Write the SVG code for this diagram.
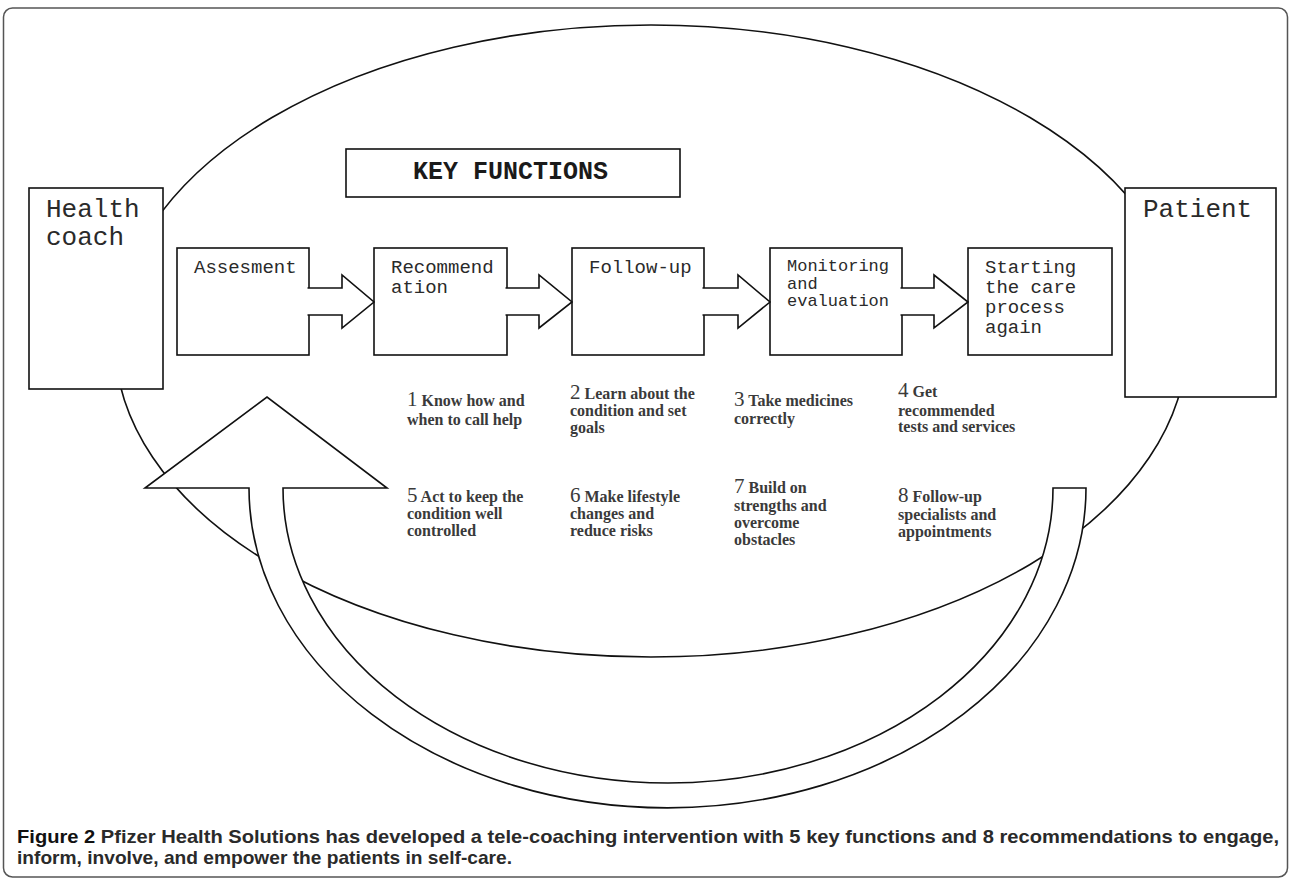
<svg xmlns="http://www.w3.org/2000/svg" width="1290" height="880" viewBox="0 0 1290 880">
<style>
.frame{fill:#fff;stroke:#555;stroke-width:1.5}
.line{fill:none;stroke:#111;stroke-width:1.6}
.box{fill:#fff;stroke:#111;stroke-width:1.6}
.mono{font-family:"Liberation Mono","Courier New",monospace;fill:#2a2a2a}
.big{font-size:26px}
.med{font-size:19px}
.sm{font-size:17px}
.kf{font-size:25px;font-weight:bold;fill:#1a1a1a}
.ser{font-family:"Liberation Serif","Times New Roman",serif;font-size:16px;font-weight:bold;fill:#3a3a3a}
.num{font-size:21px;font-weight:normal}
.cap{font-family:"Liberation Sans",Arial,sans-serif;font-size:19px;font-weight:bold;fill:#2a2a2a}
</style>
<rect class="frame" x="3.5" y="8" width="1284" height="869" rx="9"/>
<ellipse id="cycle" class="line" cx="651" cy="341" rx="536" ry="316"/>

<g id="health-coach">
<rect class="box" x="29" y="188" width="134" height="201"/>
<text class="mono big" x="46" y="217">Health</text>
<text class="mono big" x="46" y="245">coach</text>
</g>
<g id="patient">
<rect class="box" x="1125" y="188" width="151" height="209"/>
<text class="mono big" x="1143" y="217">Patient</text>
</g>
<g id="key-functions">
<rect class="box" x="346" y="149" width="334" height="48"/>
<text class="mono kf" x="413" y="179">KEY FUNCTIONS</text>
</g>
<g id="assesment">
<rect class="box" x="177" y="248" width="132" height="107"/>
<text class="mono med" x="194" y="273">Assesment</text>
</g>
<g id="recommendation">
<rect class="box" x="374" y="248" width="133" height="107"/>
<text class="mono med" x="391" y="273">Recommend</text>
<text class="mono med" x="391" y="293">ation</text>
</g>
<g id="follow-up">
<rect class="box" x="572" y="248" width="132" height="107"/>
<text class="mono med" x="589" y="273">Follow-up</text>
</g>
<g id="monitoring">
<rect class="box" x="770" y="248" width="132" height="107"/>
<text class="mono sm" x="787" y="271">Monitoring</text>
<text class="mono sm" x="787" y="289">and</text>
<text class="mono sm" x="787" y="306">evaluation</text>
</g>
<g id="starting">
<rect class="box" x="968" y="248" width="144" height="107"/>
<text class="mono med" x="985" y="273">Starting</text>
<text class="mono med" x="985" y="293">the care</text>
<text class="mono med" x="985" y="313">process</text>
<text class="mono med" x="985" y="333">again</text>
</g>

<g id="connectors">
<path class="box" d="M307.5,288 H342 V275 L374,302 L342,328 V315 H307.5"/>
<path class="box" d="M505.5,288 H539 V275 L572,302 L539,328 V315 H505.5"/>
<path class="box" d="M702.5,288 H738 V275 L770,302 L738,328 V315 H702.5"/>
<path class="box" d="M900.5,288 H934 V275 L968,302 L934,328 V315 H900.5"/>
<path class="box" d="M249,488 A418.5,320 0 0 0 1086,488 L1053,488 A385,295 0 0 1 283,488 L387,488 L267,397 L145,488 Z"/>
</g>

<g id="recommendations">
<text class="ser" x="407" y="406"><tspan class="num">1</tspan> Know how and</text>
<text class="ser" x="407" y="425">when to call help</text>
<text class="ser" x="570" y="399"><tspan class="num">2</tspan> Learn about the</text>
<text class="ser" x="570" y="416">condition and set</text>
<text class="ser" x="570" y="433">goals</text>
<text class="ser" x="734" y="406"><tspan class="num">3</tspan> Take medicines</text>
<text class="ser" x="734" y="424">correctly</text>
<text class="ser" x="898" y="397"><tspan class="num">4</tspan> Get</text>
<text class="ser" x="898" y="416">recommended</text>
<text class="ser" x="898" y="432">tests and services</text>
<text class="ser" x="407" y="502"><tspan class="num">5</tspan> Act to keep the</text>
<text class="ser" x="407" y="519">condition well</text>
<text class="ser" x="407" y="536">controlled</text>
<text class="ser" x="570" y="502"><tspan class="num">6</tspan> Make lifestyle</text>
<text class="ser" x="570" y="519">changes and</text>
<text class="ser" x="570" y="536">reduce risks</text>
<text class="ser" x="734" y="493"><tspan class="num">7</tspan> Build on</text>
<text class="ser" x="734" y="511">strengths and</text>
<text class="ser" x="734" y="528">overcome</text>
<text class="ser" x="734" y="545">obstacles</text>
<text class="ser" x="898" y="502"><tspan class="num">8</tspan> Follow-up</text>
<text class="ser" x="898" y="520">specialists and</text>
<text class="ser" x="898" y="537">appointments</text>
</g>

<g id="caption">
<text class="cap" x="17" y="843" textLength="1262" lengthAdjust="spacingAndGlyphs"><tspan fill="#111">Figure 2</tspan> Pfizer Health Solutions has developed a tele-coaching intervention with 5 key functions and 8 recommendations to engage,</text>
<text class="cap" x="17" y="864" textLength="495" lengthAdjust="spacingAndGlyphs">inform, involve, and empower the patients in self-care.</text>
</g>
</svg>
